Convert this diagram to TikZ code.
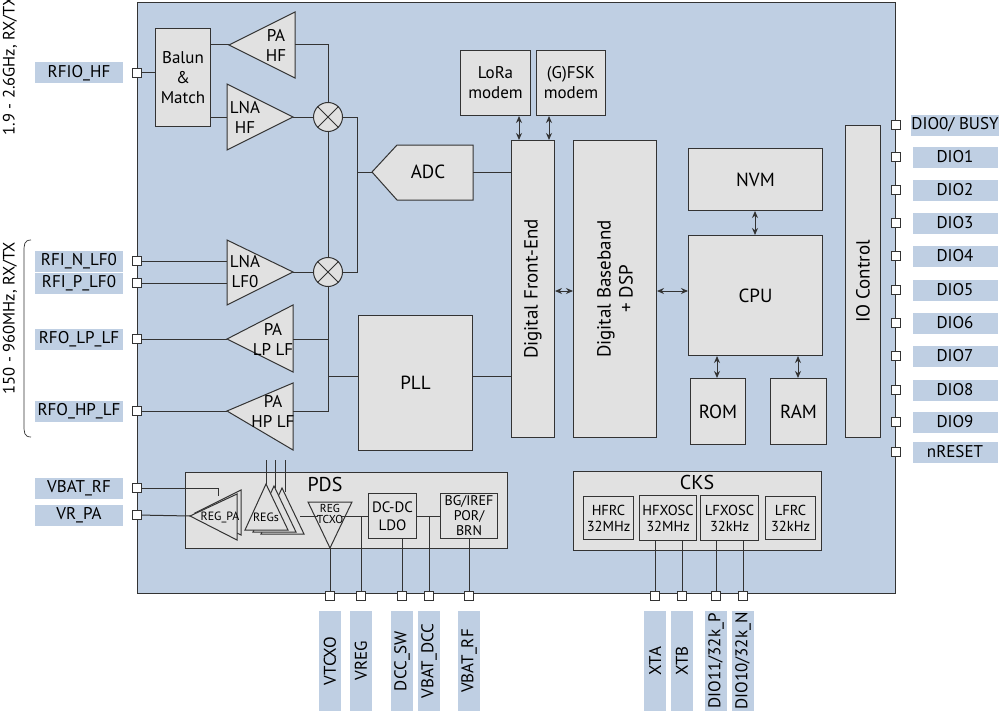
\documentclass[tikz,border=0pt]{standalone}
\usepackage{fontspec}
\setmainfont{PT Sans}
\usetikzlibrary{arrows.meta}
\definecolor{chip}{HTML}{BFCFE3}
\definecolor{blk}{HTML}{E1E1E1}
\definecolor{ln}{HTML}{333333}
\begin{document}
\begin{tikzpicture}[x=1pt,y=-1pt,line width=1pt,draw=ln,color=ln,
  blk/.style={draw=ln,fill=blk,inner sep=1pt,align=center,font=\fontsize{17}{20}\selectfont,text=black},
  sblk/.style={draw=ln,fill=blk,inner sep=1pt,align=center,font=\fontsize{14.5}{16}\selectfont,text=black},
  tri/.style={draw=ln,fill=blk},
  txt/.style={inner sep=0pt,align=center,font=\fontsize{17}{20}\selectfont,text=black},
  pin/.style={draw=ln,fill=white,minimum size=9pt,inner sep=0pt,line width=0.8pt},
  lab/.style={fill=chip,inner sep=0pt,minimum height=21pt,font=\fontsize{17}{18}\selectfont,text=black},
  dbl/.style={{Stealth[length=7pt,width=6pt]}-{Stealth[length=7pt,width=6pt]}}]
\useasboundingbox (0,0) rectangle (999,717);
\node[draw=ln,fill=chip,minimum width=758pt,minimum height=591pt,anchor=north west,inner sep=0] (chip) at (137,2) {};
% vertical notes
\node[rotate=90,font=\fontsize{16.5}{17}\selectfont,text=black] (n1) at (10,66) {1.9 - 2.6GHz, RX/TX};
\node[rotate=90,font=\fontsize{16.5}{17}\selectfont,text=black] (n2) at (10,318) {150 - 960MHz, RX/TX};
\draw[line width=0.7pt] (31,240) .. controls (24,240) and (24,245) .. (24,252) -- (24,425) .. controls (24,432) and (24,437) .. (31,437);
% left pins
\foreach \n/\y/\t in {p1/73/RFIO\_HF,p2/261/RFI\_N\_LF0,p3/283/RFI\_P\_LF0,p4/339/RFO\_LP\_LF,p5/411/RFO\_HP\_LF,p6/488/VBAT\_RF,p7/515/VR\_PA}{
  \node[lab,minimum width=88pt] (l\n) at (79,\y) {\t};
  \node[pin] (\n) at (137,\y) {};}
% right pins
\foreach \n/\y/\t in {r0/125/{DIO0/ BUSY},r1/157/DIO1,r2/190/DIO2,r3/223/DIO3,r4/256/DIO4,r5/290/DIO5,r6/323/DIO6,r7/356/DIO7,r8/390/DIO8,r9/422/DIO9,r10/452/nRESET}{
  \node[lab,minimum width=85pt] (l\n) at (955,\y) {\t};
  \node[pin] (\n) at (896,\y) {};}
% RF blocks
\node[blk,minimum width=55pt,minimum height=98pt,anchor=north west] (balun) at (155,28) {Balun\\\&\\Match};
\draw[tri] (229,45) coordinate (pahft) -- (295,12) -- (295,78) -- cycle; \node[txt] (tpahf) at (276,45) {PA\\HF};
\draw[tri] (227,84) -- (293,117) coordinate (lnahft) -- (227,150) -- cycle; \node[txt] (tlnahf) at (245,117) {LNA\\HF};
\draw[tri] (227,240) -- (293,272) coordinate (lnalft) -- (227,305) -- cycle; \node[txt] (tlnalf) at (245,272) {LNA\\LF0};
\draw[tri] (227,339) coordinate (palpt) -- (293,305) -- (293,372) -- cycle; \node[txt] (tpalp) at (273,339) {PA\\LP LF};
\draw[tri] (227,411) coordinate (pahpt) -- (293,383) -- (293,450) -- cycle; \node[txt] (tpahp) at (273,411) {PA\\HP LF};
\foreach \m/\y in {m1/117,m2/272}{
  \node[circle,draw=ln,fill=blk,minimum size=29pt,inner sep=0] (\m) at (328,\y) {};
  \draw (\m.north west) -- (\m.south east) (\m.north east) -- (\m.south west);}
\draw (p1) -- (balun.west|-p1);
\draw (balun.east|-pahft) -- (pahft);
\draw (balun.east|-lnahft) -- (227,117);
\draw (295,45) -| (m1.north);
\draw (lnahft) -- (m1.west);
\draw (m1.south) -- (m2.north);
\draw (lnalft) -- (m2.west);
\draw (p2) -- (227,261); \draw (p3) -- (227,283);
\draw (p4) -- (palpt); \draw (p5) -- (pahpt);
\draw (m1.east) -- (357,117) -- (357,272) -- (m2.east);
% ADC
\draw[tri] (372,172) coordinate (adct) -- (397,145) -- (473,145) coordinate (adcr1) -- (473,200) -- (397,200) -- cycle;
\node[txt,font=\fontsize{19}{20}\selectfont] (tadc) at (428,172) {ADC};
\draw (357,172) -- (adct);
\node[blk,minimum width=114pt,minimum height=135pt,anchor=north west,font=\fontsize{19}{20}\selectfont] (pll) at (358,315) {PLL};
\draw (m2.south) -- (328,411) -- (293,411);
\draw (328,339) -- (293,339);
\draw (328,376) -- (pll.west|-0,376);
% digital
\node[blk,minimum width=43pt,minimum height=297pt,anchor=north west] (dfe) at (511,140) {};
\node[rotate=90,txt,font=\fontsize{19}{20}\selectfont] (tdfe) at (dfe.center) {Digital Front-End};
\draw (473,172) -- (dfe.west|-0,172);
\draw (pll.east|-0,376) -- (dfe.west|-0,376);
\node[blk,minimum width=70pt,minimum height=65pt,anchor=north west] (lora) at (460,50) {LoRa\\modem};
\node[blk,minimum width=69pt,minimum height=65pt,anchor=north west] (fsk) at (536,50) {(G)FSK\\modem};
\draw[dbl] (lora.south-|519,0) -- (dfe.north-|519,0);
\draw[dbl] (fsk.south-|549,0) -- (dfe.north-|549,0);
\node[blk,minimum width=83pt,minimum height=297pt,anchor=north west] (dbb) at (573,140) {};
\node[rotate=90,txt,font=\fontsize{19}{22}\selectfont] (tdbb) at (dbb.center) {Digital Baseband\\+ DSP};
\draw[dbl] (dfe.east|-0,291) -- (dbb.west|-0,291);
\node[blk,minimum width=134pt,minimum height=62pt,anchor=north west,font=\fontsize{19}{20}\selectfont] (nvm) at (688,148) {NVM};
\node[blk,minimum width=134pt,minimum height=120pt,anchor=north west,font=\fontsize{19}{20}\selectfont] (cpu) at (688,235) {CPU};
\node[blk,minimum width=55pt,minimum height=66pt,anchor=north west,font=\fontsize{19}{20}\selectfont] (rom) at (690,378) {ROM};
\node[blk,minimum width=56pt,minimum height=66pt,anchor=north west,font=\fontsize{19}{20}\selectfont] (ram) at (770,378) {RAM};
\draw[dbl] (dbb.east|-0,291) -- (cpu.west|-0,291);
\draw[dbl] (nvm.south-|755,0) -- (cpu.north-|755,0);
\draw[dbl] (cpu.south-|717,0) -- (rom.north-|717,0);
\draw[dbl] (cpu.south-|798,0) -- (ram.north-|798,0);
\node[blk,minimum width=35pt,minimum height=312pt,anchor=north west] (io) at (845,125) {};
\node[rotate=90,txt,font=\fontsize{19}{20}\selectfont] (tio) at (io.center) {IO Control};
% PDS
\node[draw=ln,fill=blk,minimum width=322pt,minimum height=76pt,anchor=north west,inner sep=0] (pds) at (185,472) {};
\node[txt,font=\fontsize{20}{21}\selectfont] (tpds) at (325,484) {PDS};
\draw[tri] (195,513) -- (241,490) -- (241,535) -- cycle;
\draw[tri] (190,516) coordinate (regpat) -- (237,494) -- (237,540) -- cycle;
\node[txt,font=\fontsize{12}{12}\selectfont] (tregpa) at (220,517) {REG\_PA};
\draw (p6) -- (218,488) -- (218,496);
\draw (p7) -- (regpat);
\foreach \dx in {16,8,0}{\draw[tri] (245+\dx,530+2*\dx/8) -- (266+\dx,484+2*\dx/8) -- (288+\dx,530+2*\dx/8) -- cycle;}
\node[txt,font=\fontsize{12}{12}\selectfont] (tregs) at (266,517) {REGs};
\foreach \x/\y in {266/484,275/488,285/492}{\draw (\x,\y) -- (\x,460);}
\draw[tri] (308,502) -- (352,502) -- (330,548) coordinate (tcxob) -- cycle;
\node[txt,font=\fontsize{11.5}{11.5}\selectfont] (ttcxo) at (330,514) {REG\\TCXO};
\node[blk,minimum width=48pt,minimum height=45pt,anchor=north west,font=\fontsize{15}{18}\selectfont] (dcdc) at (368,493) {DC-DC\\LDO};
\node[blk,minimum width=57pt,minimum height=45pt,anchor=north west,font=\fontsize{14}{15}\selectfont] (bg) at (440,493) {BG/IREF\\POR/\\BRN};
\draw (300,516) -- (318,516) (342,516) -- (dcdc.west|-0,516);
\draw (dcdc.east|-0,516) -- (bg.west|-0,516);
% CKS
\node[draw=ln,fill=blk,minimum width=248pt,minimum height=79pt,anchor=north west,inner sep=0] (cks) at (573,471) {};
\node[txt,font=\fontsize{20}{21}\selectfont] (tcks) at (697,482) {CKS};
\node[sblk,minimum width=50pt,minimum height=43pt,anchor=north west] (hfrc) at (583,496) {HFRC\\32MHz};
\node[sblk,minimum width=57pt,minimum height=45pt,anchor=north west] (hfx) at (639,495) {HFXOSC\\32MHz};
\node[sblk,minimum width=58pt,minimum height=45pt,anchor=north west] (lfx) at (700,495) {LFXOSC\\32kHz};
\node[sblk,minimum width=50pt,minimum height=43pt,anchor=north west] (lfrc) at (765,496) {LFRC\\32kHz};
% bottom pins
\foreach \n/\x/\t in {b1/330/VTCXO,b2/361/VREG,b3/402/DCC\_SW,b4/429/VBAT\_DCC,b5/469/VBAT\_RF,c1/655/XTA,c2/682/XTB,c3/716/{DIO11/32k\_P},c4/743/{DIO10/32k\_N}}{
  \node[lab,minimum width=100pt,rotate=90,minimum height=22pt] (l\n) at (\x,661) {\t};
  \node[pin] (\n) at (\x,596) {};}
\draw (tcxob) -- (b1);
\draw (361,516) -- (b2);
\draw (dcdc.south-|b3) -- (b3);
\draw (429,516) -- (b4);
\draw (bg.south-|b5) -- (b5);
\draw (hfx.south-|c1) -- (c1); \draw (hfx.south-|c2) -- (c2);
\draw (lfx.south-|c3) -- (c3); \draw (lfx.south-|c4) -- (c4);
\end{tikzpicture}
\end{document}
